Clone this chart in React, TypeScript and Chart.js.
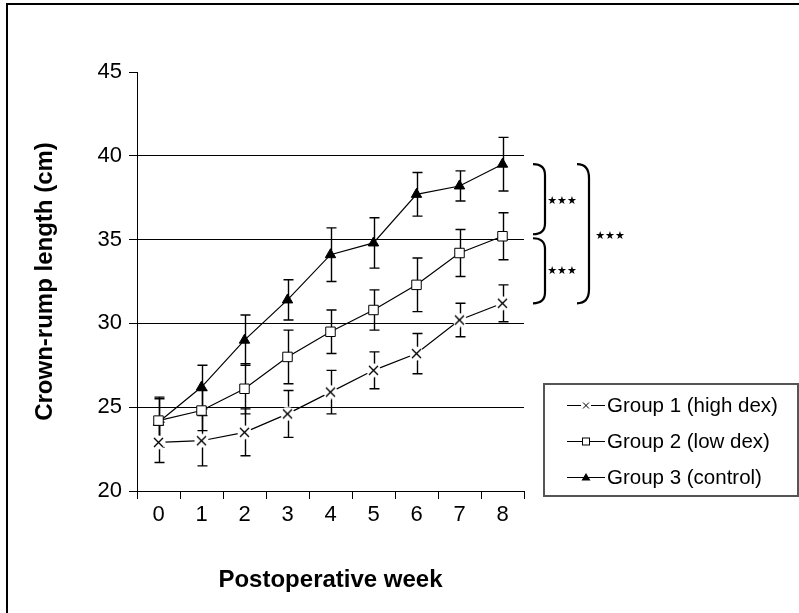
import React, { useEffect, useRef } from "react";
import { Chart, registerables } from "chart.js";

Chart.register(...registerables);

const weeks = ["0", "1", "2", "3", "4", "5", "6", "7", "8"];
const seriesNames = ["Group 1 (high dex)", "Group 2 (low dex)", "Group 3 (control)"];
const group1 = [22.9, 23.0, 23.5, 24.6, 25.9, 27.2, 28.2, 30.2, 31.2];
const group1Err = [1.2, 1.5, 1.4, 1.4, 1.3, 1.1, 1.2, 1.0, 1.1];
const group2 = [24.2, 24.8, 26.1, 28.0, 29.5, 30.8, 32.3, 34.2, 35.2];
const group2Err = [1.3, 1.2, 1.5, 1.6, 1.3, 1.2, 1.6, 1.4, 1.4];
const group3 = [24.1, 26.2, 29.0, 31.4, 34.1, 34.8, 37.7, 38.2, 39.5];
const group3Err = [1.5, 1.3, 1.5, 1.2, 1.6, 1.5, 1.3, 0.9, 1.6];
const yTicks = [20, 25, 30, 35, 40, 45];
const significance = "★★★";

const FONT = "Arial, 'Liberation Sans', sans-serif";

function makeCross(half: number, pad: number) {
  const size = Math.ceil((half + pad) * 2) + 1;
  const c = document.createElement("canvas");
  c.width = size;
  c.height = size;
  const ctx = c.getContext("2d")!;
  const m = size / 2;
  ctx.fillStyle = "#fff";
  ctx.beginPath();
  ctx.arc(m, m, half + pad, 0, Math.PI * 2);
  ctx.fill();
  ctx.strokeStyle = "#000";
  ctx.lineWidth = 1.4;
  ctx.beginPath();
  ctx.moveTo(m - half, m - half);
  ctx.lineTo(m + half, m + half);
  ctx.moveTo(m + half, m - half);
  ctx.lineTo(m - half, m + half);
  ctx.stroke();
  return c;
}

export default function App() {
  const ref = useRef<HTMLCanvasElement | null>(null);

  useEffect(() => {
    if (!ref.current) return;
    const values = [group1, group2, group3];
    const errors = [group1Err, group2Err, group3Err];
    const crossMarker = makeCross(4.5, 2.5);

    const overlay = {
      id: "overlay",
      beforeDatasetsDraw(chart: any) {
        const ctx = chart.ctx;
        const xs = chart.scales.x;
        const ys = chart.scales.y;
        ctx.save();
        ctx.strokeStyle = "#000";
        ctx.lineWidth = 1.4;
        values.forEach((vals, i) => {
          vals.forEach((v, j) => {
            const x = Math.round(xs.getPixelForValue(j)) + 0.5;
            const yt = ys.getPixelForValue(v + errors[i][j]);
            const yb = ys.getPixelForValue(v - errors[i][j]);
            ctx.beginPath();
            ctx.moveTo(x, yt);
            ctx.lineTo(x, yb);
            ctx.moveTo(x - 5, yt);
            ctx.lineTo(x + 5, yt);
            ctx.moveTo(x - 5, yb);
            ctx.lineTo(x + 5, yb);
            ctx.stroke();
          });
        });
        ctx.restore();
      },
      afterDraw(chart: any) {
        const ctx = chart.ctx;
        const ys = chart.scales.y;
        const area = chart.chartArea;
        ctx.save();

        // outer frame
        ctx.strokeStyle = "#000";
        ctx.lineWidth = 2;
        ctx.strokeRect(7, 4, 900, 800);

        // legend
        const lx = 544;
        const ly = 384;
        ctx.strokeStyle = "#555";
        ctx.lineWidth = 2;
        ctx.strokeRect(lx, ly, 254, 112);
        const rows = [405, 441, 477];
        rows.forEach((ry, i) => {
          ctx.strokeStyle = "#000";
          ctx.lineWidth = 1;
          ctx.beginPath();
          ctx.moveTo(567, ry + 0.5);
          ctx.lineTo(605, ry + 0.5);
          ctx.stroke();
          const cx = 586;
          if (i === 0) {
            ctx.fillStyle = "#fff";
            ctx.fillRect(cx - 5, ry - 5, 10, 10);
            ctx.beginPath();
            ctx.moveTo(cx - 3, ry - 2.5);
            ctx.lineTo(cx + 3, ry + 3.5);
            ctx.moveTo(cx + 3, ry - 2.5);
            ctx.lineTo(cx - 3, ry + 3.5);
            ctx.stroke();
          } else if (i === 1) {
            ctx.fillStyle = "#fff";
            ctx.fillRect(cx - 3.5, ry - 3, 7, 7);
            ctx.strokeRect(cx - 3.5, ry - 3, 7, 7);
          } else {
            ctx.fillStyle = "#000";
            ctx.beginPath();
            ctx.moveTo(cx, ry - 4);
            ctx.lineTo(cx + 4.5, ry + 3.5);
            ctx.lineTo(cx - 4.5, ry + 3.5);
            ctx.closePath();
            ctx.fill();
          }
          ctx.fillStyle = "#000";
          ctx.font = `20.5px ${FONT}`;
          ctx.textAlign = "left";
          ctx.textBaseline = "middle";
          ctx.fillText(seriesNames[i], 607, ry + 1);
        });

        // significance brackets
        const last = weeks.length - 1;
        const y3 = ys.getPixelForValue(group3[last]);
        const y2 = ys.getPixelForValue(group2[last]);
        const y1 = ys.getPixelForValue(group1[last]);
        const bracket = (x0: number, x1: number, top: number, bot: number, r: number) => {
          ctx.beginPath();
          ctx.moveTo(x0, top);
          ctx.quadraticCurveTo(x1, top, x1, top + r);
          ctx.lineTo(x1, bot - r);
          ctx.quadraticCurveTo(x1, bot, x0, bot);
          ctx.stroke();
        };
        ctx.strokeStyle = "#000";
        ctx.lineWidth = 2.2;
        bracket(area.right + 9, area.right + 21, y3, y2 - 2, 11);
        bracket(area.right + 9, area.right + 21, y2 + 2, y1, 11);
        bracket(area.right + 53, area.right + 65, y3, y1, 14);

        ctx.fillStyle = "#000";
        ctx.font = `bold 11px 'DejaVu Sans', sans-serif`;
        ctx.textAlign = "center";
        ctx.textBaseline = "middle";
        ctx.fillText(significance, area.right + 38, (y3 + y2) / 2 + 1);
        ctx.fillText(significance, area.right + 38, (y2 + y1) / 2 + 1);
        ctx.fillText(significance, area.right + 86, (y3 + y1) / 2 + 2);
        ctx.restore();
      },
    };

    const chart = new Chart(ref.current, {
      type: "line",
      data: {
        labels: weeks,
        datasets: [
          {
            label: seriesNames[0],
            data: group1,
            borderColor: "#000",
            borderWidth: 1.2,
            pointStyle: crossMarker as any,
            pointRadius: 5,
          },
          {
            label: seriesNames[1],
            data: group2,
            borderColor: "#000",
            borderWidth: 1.2,
            pointStyle: "rect",
            pointRadius: 6.7,
            pointBackgroundColor: "#fff",
            pointBorderColor: "#000",
            pointBorderWidth: 1,
          },
          {
            label: seriesNames[2],
            data: group3,
            borderColor: "#000",
            borderWidth: 1.2,
            pointStyle: "triangle",
            pointRadius: 6,
            pointBackgroundColor: "#000",
            pointBorderColor: "#000",
            pointBorderWidth: 1,
          },
        ],
      },
      options: {
        animation: false,
        responsive: false,
        devicePixelRatio: 1,
        layout: { padding: { top: 72, right: 275, bottom: 0, left: 0 } },
        plugins: {
          legend: { display: false },
          tooltip: { enabled: false },
        },
        scales: {
          x: {
            type: "category",
            offset: true,
            grid: {
              offset: true,
              drawOnChartArea: false,
              tickLength: 8,
              color: "#000",
              tickColor: "#000",
            },
            border: { color: "#000", width: 1 },
            ticks: {
              color: "#000",
              padding: 3,
              maxRotation: 0,
              font: { size: 22, family: FONT },
            },
            title: {
              display: true,
              text: "Postoperative week",
              color: "#000",
              font: { size: 24, weight: "bold", family: FONT },
              padding: { top: 0, bottom: 18.6 },
            },
            afterFit: (s: any) => {
              s.height = 122;
            },
          } as any,
          y: {
            min: yTicks[0],
            max: yTicks[yTicks.length - 1],
            afterBuildTicks: (s: any) => {
              s.ticks = yTicks.map((v) => ({ value: v }));
            },
            grid: {
              tickLength: 8,
              color: (c: any) =>
                c.tick && (c.tick.value === yTicks[0] || c.tick.value === yTicks[yTicks.length - 1])
                  ? "rgba(0,0,0,0)"
                  : "#000",
              tickColor: "#000",
            },
            border: { color: "#000", width: 1 },
            ticks: {
              color: "#000",
              padding: 7,
              font: { size: 22, family: FONT },
            },
            title: {
              display: true,
              text: "Crown-rump length (cm)",
              color: "#000",
              font: { size: 24, weight: "bold", family: FONT },
              padding: { top: 30.6, bottom: 0 },
            },
            afterFit: (s: any) => {
              s.width = 137;
            },
          } as any,
        },
      },
      plugins: [overlay],
    });
    return () => chart.destroy();
  }, []);

  return (
    <div style={{ position: "absolute", left: 0, top: 0, width: 799, height: 613, overflow: "hidden", background: "#fff" }}>
      <canvas ref={ref} width={799} height={613} style={{ display: "block" }} />
    </div>
  );
}
